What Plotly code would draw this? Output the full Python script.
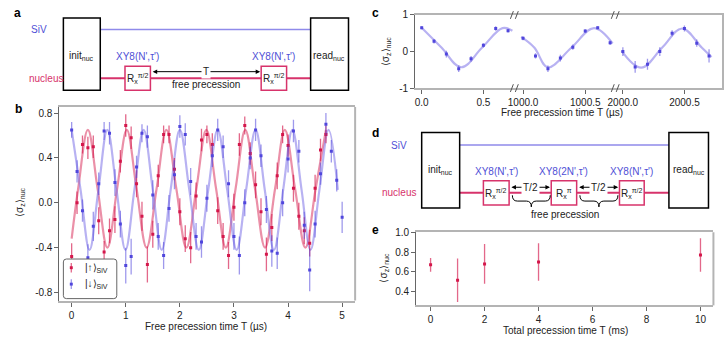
import plotly.graph_objects as go

# ---------------- data: panel b (Ramsey, SiV up / down) ----------------
t_up = [0.0, 0.1, 0.2, 0.3, 0.4, 0.5, 0.6, 0.7, 0.8, 0.9,
        1.0, 1.1, 1.2, 1.3, 1.4, 1.5, 1.6, 1.7, 1.8, 1.9,
        2.0, 2.1, 2.2, 2.3, 2.4, 2.5, 2.6, 2.7, 2.8, 2.9,
        3.0, 3.1, 3.2, 3.3, 3.4, 3.5, 3.6, 3.7, 3.8, 3.9,
        4.0, 4.1, 4.2, 4.3, 4.4, 4.5, 4.6, 4.7]
sz_up = [-0.48, 0.00, 0.52, 0.49, 0.50, -0.16, -0.44, -0.25, -0.15, 0.37,
         0.69, 0.58, 0.17, -0.12, -0.55, -0.28, 0.24, 0.61, 0.61, 0.30,
         -0.08, -0.32, -0.40, 0.06, 0.56, 0.61, 0.52, -0.07, -0.30, -0.47,
         -0.04, 0.52, 0.69, 0.44, 0.16, -0.08, -0.46, -0.22, 0.24, 0.61,
         0.51, 0.13, -0.12, -0.25, -0.36, 0.13, 0.47, 0.61]
err_up = [0.12, 0.10, 0.08, 0.10, 0.10, 0.12, 0.10, 0.11, 0.12, 0.10,
          0.10, 0.10, 0.12, 0.13, 0.16, 0.12, 0.10, 0.08, 0.08, 0.10,
          0.12, 0.12, 0.14, 0.12, 0.10, 0.08, 0.10, 0.12, 0.12, 0.12,
          0.12, 0.10, 0.08, 0.10, 0.12, 0.12, 0.15, 0.12, 0.12, 0.08,
          0.10, 0.12, 0.12, 0.12, 0.12, 0.12, 0.10, 0.08]

t_down = [0.0, 0.1, 0.2, 0.3, 0.4, 0.5, 0.6, 0.7, 0.8, 0.9,
          1.0, 1.1, 1.2, 1.3, 1.4, 1.5, 1.6, 1.7, 1.8, 1.9,
          2.0, 2.1, 2.2, 2.3, 2.4, 2.5, 2.6, 2.7, 2.8, 2.9,
          3.0, 3.1, 3.2, 3.3, 3.4, 3.5, 3.6, 3.7, 3.8, 3.9,
          4.0, 4.1, 4.2, 4.3, 4.4, 4.5, 4.6, 4.7, 4.8, 4.9, 5.0]
sz_down = [0.65, 0.28, -0.07, -0.49, -0.21, 0.17, 0.64, 0.62, 0.18, -0.19,
           -0.56, -0.48, 0.32, 0.62, 0.59, 0.07, -0.30, -0.47, -0.05, 0.25,
           0.68, 0.61, 0.19, -0.30, -0.35, 0.04, 0.42, 0.65, 0.50, 0.17,
           -0.30, -0.47, 0.00, 0.40, 0.65, 0.42, -0.06, -0.43, -0.45, 0.00,
           0.39, 0.64, 0.46, -0.20, -0.60, -0.19, 0.26, 0.70, 0.46, 0.20,
           -0.13]
err_down = [0.07, 0.10, 0.10, 0.12, 0.13, 0.10, 0.08, 0.10, 0.12, 0.12,
            0.16, 0.16, 0.10, 0.08, 0.10, 0.13, 0.12, 0.12, 0.12, 0.13,
            0.10, 0.10, 0.12, 0.12, 0.14, 0.12, 0.10, 0.10, 0.10, 0.12,
            0.12, 0.17, 0.12, 0.10, 0.10, 0.10, 0.12, 0.14, 0.14, 0.12,
            0.12, 0.10, 0.10, 0.12, 0.19, 0.12, 0.10, 0.10, 0.10, 0.10,
            0.14]

# fit curves (extrema and crossings)
fit_up_t = [0.0, 0.12, 0.30, 0.48, 0.66, 0.84, 1.02, 1.20, 1.385, 1.57,
            1.75, 1.935, 2.12, 2.305, 2.49, 2.67, 2.85, 3.03, 3.21, 3.39,
            3.575, 3.76, 3.94, 4.13, 4.32, 4.51, 4.70]
fit_up_v = [-0.32, 0.125, 0.65, 0.125, -0.40, 0.125, 0.65, 0.125, -0.40, 0.125,
            0.65, 0.125, -0.40, 0.125, 0.65, 0.125, -0.40, 0.125, 0.65, 0.125,
            -0.40, 0.125, 0.65, 0.125, -0.40, 0.125, 0.65]
fit_down_t = [0.0, 0.165, 0.33, 0.495, 0.66, 0.83, 0.995, 1.16, 1.33, 1.50,
              1.665, 1.83, 2.0, 2.175, 2.35, 2.525, 2.70, 2.875, 3.05, 3.225,
              3.40, 3.57, 3.74, 3.91, 4.08, 4.25, 4.415, 4.58, 4.75, 4.92]
fit_down_v = [0.65, 0.115, -0.42, 0.115, 0.65, 0.115, -0.42, 0.115, 0.65, 0.115,
              -0.42, 0.115, 0.65, 0.115, -0.42, 0.115, 0.65, 0.115, -0.42, 0.115,
              0.65, 0.115, -0.42, 0.115, 0.65, 0.115, -0.42, 0.115, 0.65, 0.115]

# ---------------- data: panel c (three time windows) ----------------
c1_t = [0.0, 0.1, 0.2, 0.3, 0.4, 0.5, 0.6, 0.7]
c1_v = [0.65, 0.28, -0.07, -0.47, -0.20, 0.17, 0.63, 0.57]
c1_err = [0.04, 0.06, 0.09, 0.09, 0.08, 0.06, 0.06, 0.05]
c2_t = [1000.0, 1000.1, 1000.2, 1000.3, 1000.4, 1000.5, 1000.6, 1000.7]
c2_v = [0.36, -0.12, -0.47, -0.18, 0.12, 0.56, 0.65, 0.24]
c2_err = [0.05, 0.07, 0.09, 0.09, 0.07, 0.05, 0.04, 0.06]
c3_t = [2000.0, 2000.1, 2000.2, 2000.3, 2000.4, 2000.5, 2000.6, 2000.7]
c3_v = [0.00, -0.42, -0.35, 0.00, 0.50, 0.63, 0.23, -0.12]
c3_err = [0.12, 0.16, 0.15, 0.12, 0.08, 0.08, 0.10, 0.18]

c1_fit_t = [0.0, 0.16, 0.32, 0.49, 0.655, 0.735]
c1_fit_v = [0.65, 0.11, -0.43, 0.11, 0.64, 0.57]
c2_fit_t = [999.985, 1000.09, 1000.2, 1000.39, 1000.57, 1000.72]
c2_fit_v = [0.40, 0.11, -0.43, 0.11, 0.64, 0.22]
c3_fit_t = [1999.99, 2000.15, 2000.32, 2000.48, 2000.64, 2000.72]
c3_fit_v = [0.02, -0.44, 0.11, 0.63, 0.11, -0.15]

# ---------------- data: panel e (echo) ----------------
e_t = [0, 1, 2, 4, 10]
e_v = [0.67, 0.515, 0.68, 0.70, 0.77]
e_err = [0.07, 0.22, 0.20, 0.19, 0.17]

RED = '#d4174b'
BLUE = '#5046dc'
RED_FIT = 'rgba(222,70,110,0.6)'
BLUE_FIT = 'rgba(125,115,232,0.55)'
RED_ERR = 'rgba(212,23,75,0.65)'
BLUE_ERR = 'rgba(80,70,220,0.55)'
AXC = '#666666'     # left / bottom axes
FRAME = '#b4b4b4'   # light frame
FONT = 'Arial, Liberation Sans, sans-serif'

W, H = 725, 350


def px(x):
    return x / W


def py(y):
    return 1 - y / H


def rect(x0, y0, x1, y1, color, width=1.5):
    return dict(type='rect', xref='paper', yref='paper', x0=px(x0), x1=px(x1),
                y0=py(y1), y1=py(y0), line=dict(color=color, width=width),
                fillcolor='white')


def hline(x0, x1, y, color, width=1.5):
    return dict(type='line', xref='paper', yref='paper', x0=px(x0), x1=px(x1),
                y0=py(y), y1=py(y), line=dict(color=color, width=width))


def seg(x0, y0, x1, y1, color, width=1):
    return dict(type='line', xref='paper', yref='paper', x0=px(x0), x1=px(x1),
                y0=py(y0), y1=py(y1), line=dict(color=color, width=width))


def frame_line(xa, ya, x0, y0, x1, y1, width=2):
    # line in axis-domain coordinates (for the light top / right frame)
    return dict(type='line', xref=xa + ' domain', yref=ya + ' domain',
                x0=x0, y0=y0, x1=x1, y1=y1, line=dict(color=FRAME, width=width))


def label(x, y, text, size=10, color='#222', **kw):
    d = dict(xref='paper', yref='paper', x=px(x), y=py(y), text=text,
             showarrow=False, font=dict(size=size, color=color, family=FONT),
             xanchor='center', yanchor='middle')
    d.update(kw)
    return d


def darrow(x0, x1, y):
    return dict(xref='paper', yref='paper', x=px(x1), y=py(y), ax=x0 - x1, ay=0,
                axref='pixel', ayref='pixel', text='', showarrow=True,
                arrowside='end+start', arrowhead=2, startarrowhead=2,
                arrowsize=0.9, startarrowsize=0.9, arrowwidth=1, arrowcolor='black')


def brace(x0, x1, ytop, ytip):
    ym = (ytop + ytip) / 2
    xm = (x0 + x1) / 2
    pts = [
        f"M{px(x0)},{py(ytop)}",
        f"Q{px(x0)},{py(ym)} {px(x0 + 5)},{py(ym)}",
        f"L{px(xm - 5)},{py(ym)}",
        f"Q{px(xm)},{py(ym)} {px(xm)},{py(ytip)}",
        f"Q{px(xm)},{py(ym)} {px(xm + 5)},{py(ym)}",
        f"L{px(x1 - 5)},{py(ym)}",
        f"Q{px(x1)},{py(ym)} {px(x1)},{py(ytop)}",
    ]
    return dict(type='path', xref='paper', yref='paper', path=' '.join(pts),
                line=dict(color='black', width=1))


def round_box(x0, y0, x1, y1, r=3):
    pts = [
        f"M{px(x0 + r)},{py(y0)}", f"L{px(x1 - r)},{py(y0)}",
        f"Q{px(x1)},{py(y0)} {px(x1)},{py(y0 + r)}", f"L{px(x1)},{py(y1 - r)}",
        f"Q{px(x1)},{py(y1)} {px(x1 - r)},{py(y1)}", f"L{px(x0 + r)},{py(y1)}",
        f"Q{px(x0)},{py(y1)} {px(x0)},{py(y1 - r)}", f"L{px(x0)},{py(y0 + r)}",
        f"Q{px(x0)},{py(y0)} {px(x0 + r)},{py(y0)} Z",
    ]
    return dict(type='path', xref='paper', yref='paper', path=' '.join(pts),
                line=dict(color='#666', width=1), fillcolor='white')


SIV_C = '#8f8aea'
NUC_C = '#d7336b'
XY8_C = '#4f4fd6'
SIGMA = '⟨σ<sub>z</sub>⟩<sub>nuc</sub>'
RX2 = 'R<sub>x</sub><sup>π/2</sup>'

fig = go.Figure()

# panel b
fig.add_trace(go.Scatter(x=fit_up_t, y=fit_up_v, mode='lines', showlegend=False,
                         line=dict(color=RED_FIT, width=2.2, shape='spline', smoothing=1.1)))
fig.add_trace(go.Scatter(x=fit_down_t, y=fit_down_v, mode='lines', showlegend=False,
                         line=dict(color=BLUE_FIT, width=2.2, shape='spline', smoothing=1.1)))
fig.add_trace(go.Scatter(x=t_up, y=sz_up, mode='markers', name='|↑⟩<sub>SiV</sub>',
                         showlegend=False,
                         marker=dict(symbol='square', size=3, color=RED),
                         error_y=dict(type='data', array=err_up, color=RED_ERR,
                                      thickness=1.3, width=0)))
fig.add_trace(go.Scatter(x=t_down, y=sz_down, mode='markers', name='|↓⟩<sub>SiV</sub>',
                         showlegend=False,
                         marker=dict(symbol='square', size=3, color=BLUE),
                         error_y=dict(type='data', array=err_down, color=BLUE_ERR,
                                      thickness=1.3, width=0)))

# panel c
for i, (ft, fv, t, v, e) in enumerate([(c1_fit_t, c1_fit_v, c1_t, c1_v, c1_err),
                                       (c2_fit_t, c2_fit_v, c2_t, c2_v, c2_err),
                                       (c3_fit_t, c3_fit_v, c3_t, c3_v, c3_err)]):
    xa, ya = 'x%d' % (i + 2), 'y%d' % (i + 2)
    fig.add_trace(go.Scatter(x=ft, y=fv, xaxis=xa, yaxis=ya, mode='lines', showlegend=False,
                             line=dict(color=BLUE_FIT, width=2.2, shape='spline', smoothing=1.1)))
    fig.add_trace(go.Scatter(x=t, y=v, xaxis=xa, yaxis=ya, mode='markers', showlegend=False,
                             marker=dict(symbol='square', size=3, color=BLUE),
                             error_y=dict(type='data', array=e, color=BLUE_ERR,
                                          thickness=1.3, width=0)))

# panel e
fig.add_trace(go.Scatter(x=e_t, y=e_v, xaxis='x5', yaxis='y5', mode='markers', showlegend=False,
                         marker=dict(symbol='square', size=3, color=RED),
                         error_y=dict(type='data', array=e_err, color=RED_ERR,
                                      thickness=1.3, width=0)))

xax = dict(showline=True, linecolor=FRAME, linewidth=2, ticks='outside', ticklen=4,
           tickcolor=AXC, tickwidth=1, showgrid=False, zeroline=False, mirror=True,
           tickfont=dict(size=10, color='#222', family=FONT))
yax = dict(showline=True, linecolor=AXC, linewidth=1, ticks='outside', ticklen=4,
           tickcolor=AXC, tickwidth=1, showgrid=False, zeroline=False,
           tickfont=dict(size=10, color='#222', family=FONT))

cy = [py(85), py(9.3)]
fig.update_layout(
    width=W, height=H, margin=dict(l=0, r=0, t=0, b=0, pad=0),
    plot_bgcolor='white', paper_bgcolor='white', showlegend=False,
    font=dict(family=FONT, size=10, color='#222'),
    xaxis=dict(xax, domain=[px(52), px(351)], range=[-0.226, 5.24],
               tickvals=[0, 1, 2, 3, 4, 5], anchor='y'),
    yaxis=dict(yax, domain=[py(305), py(104.5)], range=[-0.872, 0.855],
               tickvals=[-0.8, -0.4, 0, 0.4, 0.8],
               ticktext=['-0.8', '-0.4', '0.0', '0.4', '0.8'], anchor='x'),
    xaxis2=dict(xax, domain=[px(411.7), px(512.5)], range=[-0.053, 0.755],
                tickvals=[0, 0.5], ticktext=['0.0', '0.5'], anchor='y2'),
    xaxis3=dict(xax, domain=[px(512.5), px(614.5)], range=[999.934, 1000.745],
                tickvals=[1000, 1000.5], ticktext=['1000.0', '1000.5'], anchor='y3'),
    xaxis4=dict(xax, domain=[px(614.5), px(721.7)], range=[1999.942, 2000.803],
                tickvals=[2000, 2000.5], ticktext=['2000.0', '2000.5'], anchor='y4'),
    yaxis2=dict(yax, domain=cy, range=[-1, 1], tickvals=[-1, 0, 1],
                ticktext=['-1', '0', '1'], anchor='x2'),
    yaxis3=dict(domain=cy, range=[-1, 1], showline=False, showticklabels=False,
                showgrid=False, zeroline=False, anchor='x3'),
    yaxis4=dict(domain=cy, range=[-1, 1], showline=True, linecolor=FRAME, linewidth=2,
                showticklabels=False, showgrid=False, zeroline=False, side='right',
                anchor='x4'),
    xaxis5=dict(xax, domain=[px(412.7), px(713.3)], range=[-0.535, 10.48],
                tickvals=[0, 2, 4, 6, 8, 10], anchor='y5'),
    yaxis5=dict(yax, domain=[py(310), py(234.3)], range=[0.26, 1.0],
                tickvals=[0.4, 0.6, 0.8, 1.0], ticktext=['0.4', '0.6', '0.8', '1.0'],
                anchor='x5'),
)

shapes = [frame_line('x', 'y', 1, 0, 1, 1), frame_line('x5', 'y5', 1, 0, 1, 1)]
# diagram a
shapes += [hline(93.3, 306, 24.3, SIV_C, 1.5), hline(93.3, 306, 74.7, NUC_C, 2),
           rect(56, 12.3, 93.3, 87.3, 'black'), rect(306, 12.3, 344.3, 87.3, 'black'),
           rect(118.3, 62.3, 144, 87.3, NUC_C), rect(256, 62.3, 281.7, 87.3, NUC_C)]
# diagram d
shapes += [hline(456.7, 668.3, 144, SIV_C, 1.5), hline(456.7, 668.3, 193.3, NUC_C, 2),
           rect(418.3, 131, 456.7, 209.3, 'black'), rect(668.3, 131, 708.3, 209.3, 'black'),
           rect(480.7, 181, 506.7, 206, NUC_C), rect(549.3, 181, 575, 206, NUC_C),
           rect(618.3, 181, 643.3, 206, NUC_C),
           brace(510, 548.3, 196, 208), brace(578.3, 616.7, 196, 208)]
# axis breaks in c
for bx in (512, 614):
    for by in (9.3, 85):
        shapes.append(seg(bx - 4, by + 4, bx - 1, by - 4, '#555', 1))
        shapes.append(seg(bx + 1, by + 4, bx + 4, by - 4, '#555', 1))
# legend of b
shapes.append(round_box(56, 262, 110, 303))
for ly, col, ecol in ((271, RED, RED_ERR), (288, BLUE, BLUE_ERR)):
    shapes.append(seg(64, ly - 5, 64, ly + 5, ecol, 1.3))
    shapes.append(dict(type='rect', xref='paper', yref='paper', x0=px(62.5), x1=px(65.5),
                       y0=py(ly + 1.5), y1=py(ly - 1.5), line=dict(width=0), fillcolor=col))

annotations = [
    # panel letters
    label(10, 7, '<b>a</b>', size=12, color='black'),
    label(11, 107, '<b>b</b>', size=12, color='black'),
    label(372, 7, '<b>c</b>', size=12, color='black'),
    label(372, 131, '<b>d</b>', size=12, color='black'),
    label(372, 232, '<b>e</b>', size=12, color='black'),
    # diagram a
    label(31.7, 24.3, 'SiV', color=XY8_C),
    label(38, 74.7, 'nucleus', color=NUC_C),
    label(74.7, 52, 'init<sub>nuc</sub>'),
    label(325, 52, 'read<sub>nuc</sub>'),
    label(131.2, 52.7, "XY8(N',τ')", color=XY8_C),
    label(268.8, 52.7, "XY8(N',τ')", color=XY8_C),
    label(131.2, 75.5, RX2),
    label(268.8, 75.5, RX2),
    darrow(146, 255, 68),
    label(200, 68, 'T', bgcolor='white'),
    label(200, 81, 'free precession'),
    # diagram d
    label(395, 144, 'SiV', color=XY8_C),
    label(395, 193.3, 'nucleus', color=NUC_C),
    label(437.5, 170, 'init<sub>nuc</sub>'),
    label(688.3, 170, 'read<sub>nuc</sub>'),
    label(493.7, 171.7, "XY8(N',τ')", color=XY8_C),
    label(562.2, 171.7, "XY8(2N',τ')", color=XY8_C),
    label(630.8, 171.7, "XY8(N',τ')", color=XY8_C),
    label(493.7, 194, RX2),
    label(562.2, 194, 'R<sub>x</sub><sup>π</sup>'),
    label(630.8, 194, RX2),
    darrow(508, 548, 187.7),
    label(528, 187.7, 'T/2', bgcolor='white'),
    darrow(576.5, 617, 187.7),
    label(596.7, 187.7, 'T/2', bgcolor='white'),
    label(563.3, 216, 'free precession'),
    # legend text of b
    label(76, 271, '|↑⟩<sub>SiV</sub>', xanchor='left'),
    label(76, 288, '|↓⟩<sub>SiV</sub>', xanchor='left'),
    # axis titles
    label(12, 203, SIGMA, textangle=-90),
    label(200, 332, 'Free precession time T (µs)'),
    label(383, 47, SIGMA, textangle=-90),
    label(560, 110, 'Free precession time T (µs)'),
    label(380, 271, SIGMA, textangle=-90),
    label(564, 336, 'Total precession time T (ms)'),
]

fig.update_layout(shapes=shapes, annotations=annotations)
fig.write_html("out.html", config={'displayModeBar': False},
               post_script="document.body.style.margin='0px';")
